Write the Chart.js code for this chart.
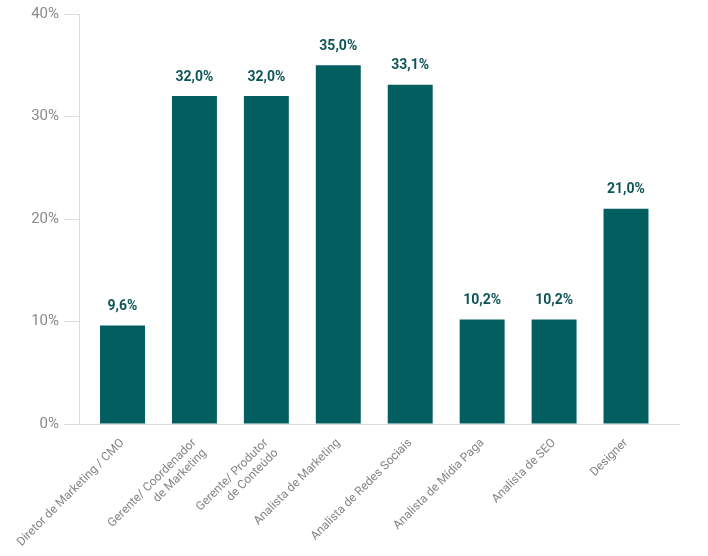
<!DOCTYPE html>
<html lang="pt">
<head>
  <meta charset="UTF-8" />
  <title>Cargos</title>
  <script src="https://cdn.jsdelivr.net/npm/chart.js"></script>
  <style>
    body { margin: 0; background: #fff; }
    .chart-container { position: relative; width: 708px; height: 556px; }
  </style>
</head>
<body>
  <div class="chart-container">
    <canvas id="cargosChart"></canvas>
  </div>
  <script>
    const categories = [
      'Diretor de Marketing / CMO',
      ['Gerente/ Coordenador', 'de Marketing'],
      ['Gerente/ Produtor', 'de Conteúdo'],
      'Analista de Marketing',
      'Analista de Redes Sociais',
      'Analista de Mídia Paga',
      'Analista de SEO',
      'Designer'
    ];
    const values = [9.6, 32.0, 32.0, 35.0, 33.1, 10.2, 10.2, 21.0];
    const yTicks = [0, 10, 20, 30, 40];

    const barColor = '#035e60';
    const labelColor = '#0f5557';
    const fmt = v => v.toFixed(1).replace('.', ',') + '%';

    // value labels above each bar
    const valueLabels = {
      id: 'valueLabels',
      afterDatasetsDraw(chart) {
        const ctx = chart.ctx;
        const meta = chart.getDatasetMeta(0);
        ctx.save();
        ctx.font = 'bold 14px Roboto';
        ctx.fillStyle = labelColor;
        ctx.textAlign = 'center';
        ctx.textBaseline = 'middle';
        meta.data.forEach((bar, i) => {
          ctx.fillText(fmt(values[i]), bar.x, bar.y - 19);
        });
        ctx.restore();
      }
    };

    const ctx = document.getElementById('cargosChart').getContext('2d');
    new Chart(ctx, {
      type: 'bar',
      data: {
        datasets: [{
          data: values.map((v, i) => ({ x: i, y: v })),
          backgroundColor: barColor,
          borderWidth: 0,
          categoryPercentage: 0.625,
          barPercentage: 1
        }]
      },
      options: {
        responsive: true,
        maintainAspectRatio: false,
        animation: false,
        layout: { padding: { top: 8, left: 28, right: 29 } },
        plugins: { legend: { display: false }, tooltip: { enabled: false } },
        scales: {
          x: {
            type: 'linear',
            offset: false,
            min: -0.6048,
            max: 7.7368,
            afterBuildTicks: s => { s.ticks = categories.map((c, i) => ({ value: i })); },
            afterFit: s => { s.height = 132; },
            grid: { display: false },
            border: { color: '#dcdcdc' },
            ticks: {
              autoSkip: false,
              minRotation: 45,
              maxRotation: 45,
              padding: 4,
              color: '#858585',
              font: { family: 'Roboto', size: 12 },
              callback: v => categories[v]
            }
          },
          y: {
            min: 0,
            max: 40,
            afterBuildTicks: s => { s.ticks = yTicks.map(v => ({ value: v })); },
            afterFit: s => { s.width = 51; },
            grid: { drawOnChartArea: false, drawTicks: true, tickLength: 15, color: '#dcdcdc' },
            border: { color: '#dcdcdc' },
            ticks: {
              padding: 5,
              color: '#8a8a8a',
              font: { family: 'Roboto', size: 15 },
              callback: v => v + '%'
            }
          }
        }
      },
      plugins: [valueLabels]
    });
  </script>
</body>
</html>
